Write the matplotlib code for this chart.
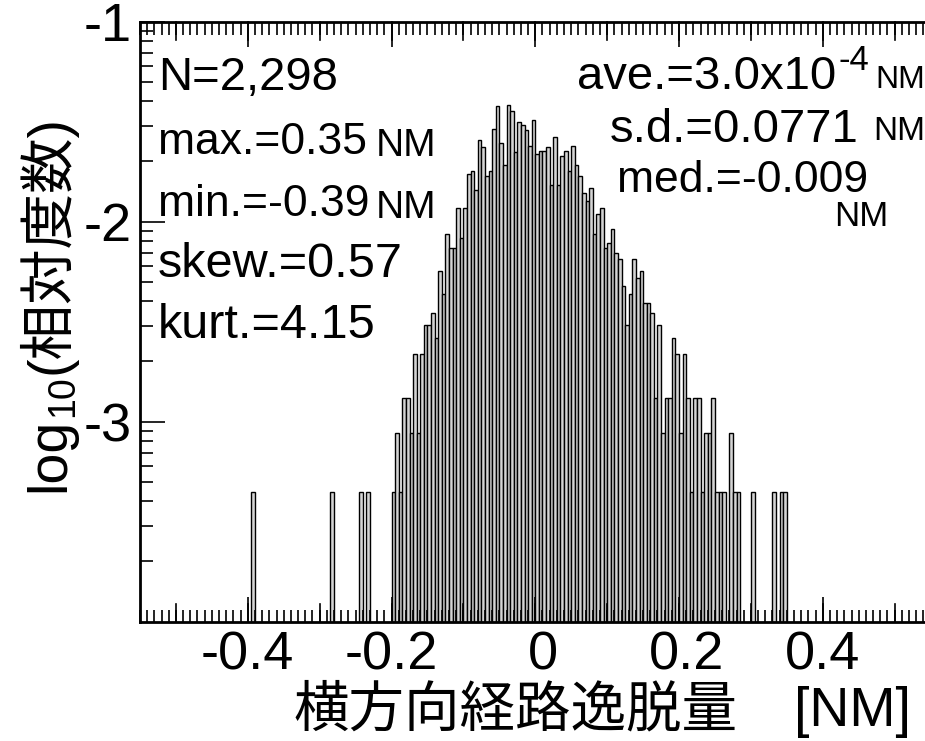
import numpy as np
import matplotlib
matplotlib.use("Agg")
import matplotlib.pyplot as plt
import matplotlib.transforms as mtransforms
from matplotlib.ticker import FixedLocator, FixedFormatter, LogLocator, NullFormatter, MultipleLocator

plt.rcParams['font.family'] = ['Liberation Sans', 'Noto Sans CJK JP', 'DejaVu Sans']
plt.rcParams['axes.unicode_minus'] = False

# ---- data ----
N_total = 2298
bin_width = 0.005
# isolated outlying bins (left edge, count)
outlier_left = [-0.395, -0.285, -0.245, -0.235]
outlier_counts = [1, 1, 1, 1]
# continuous block of bins starting at -0.200
block_start = -0.200
block_counts = [
    1, 2, 1, 3, 3, 2, 5, 2, 5, 7,        # -0.200 .. -0.155
    7, 8, 6, 13, 10, 20, 17, 17, 27, 19,  # -0.150 .. -0.105
    27, 40, 41, 33, 59, 54, 39, 41, 67, 87,  # -0.100 .. -0.055
    57, 44, 88, 82, 51, 72, 70, 66, 55, 74,  # -0.050 .. -0.005
    50, 52, 52, 54, 35, 61, 35, 49, 52, 41,  # 0.000 .. 0.045
    55, 44, 39, 32, 29, 34, 20, 25, 27, 17,  # 0.050 .. 0.095
    18, 21, 16, 15, 11, 7, 10, 15, 12, 13,   # 0.100 .. 0.145
    9, 9, 8, 3, 7, 2, 3, 3, 6, 5,            # 0.150 .. 0.195
    2, 5, 3, 1, 3, 3, 1, 2, 2, 3,            # 0.200 .. 0.245
    1, 1, 1, 0, 2, 1, 1, 0, 0, 0,            # 0.250 .. 0.295
    1, 0, 0, 0, 0, 0, 1, 0, 1, 1,            # 0.300 .. 0.345
]

xtick_vals = [-0.4, -0.2, 0.0, 0.2, 0.4]
xtick_text = ["-0.4", "-0.2", "0", "0.2", "0.4"]
ytick_vals = [1e-1, 1e-2, 1e-3]
ytick_text = ["-1", "-2", "-3"]

# ---- figure ----
W, H = 925, 741
fig = plt.figure(figsize=(W / 100, H / 100), dpi=100)
ax_l, ax_r, ax_t, ax_b = 140, 930.6, 21.7, 621.7
ax = fig.add_axes([ax_l / W, 1 - ax_b / H, (ax_r - ax_l) / W, (ax_b - ax_t) / H])

edges = np.concatenate([np.array(outlier_left),
                        block_start + bin_width * np.arange(len(block_counts))])
counts = np.concatenate([np.array(outlier_counts, float),
                         np.array(block_counts, float)])
rel = counts / N_total
mask = counts > 0
ax.bar(edges[mask], rel[mask], width=bin_width, align='edge', bottom=1e-5,
       color='#d4d4d4', edgecolor='black', linewidth=1.0)

ax.set_yscale('log')
ax.set_ylim(1e-4, 1e-1)
ax.set_xlim(-0.55, 0.55)

ax.xaxis.set_major_locator(FixedLocator(xtick_vals))
ax.xaxis.set_major_formatter(FixedFormatter(xtick_text))
ax.xaxis.set_minor_locator(MultipleLocator(0.01))
ax.yaxis.set_major_locator(FixedLocator(ytick_vals))
ax.yaxis.set_major_formatter(FixedFormatter(ytick_text))
ax.yaxis.set_minor_locator(LogLocator(base=10, subs=np.arange(2, 10)))
ax.yaxis.set_minor_formatter(NullFormatter())

# tall ticks every 0.1
for xv in np.arange(-0.5, 0.51, 0.1):
    for yy, d in ((0, 1), (1, -1)):
        ax.plot([xv, xv], [yy, yy + d * 0.03], transform=ax.get_xaxis_transform(),
                color='black', lw=1.2, clip_on=False)

ax.tick_params(which='both', direction='in', top=True, right=False, width=1.2)
ax.tick_params(which='major', length=18, labelsize=39, pad=6)
ax.tick_params(which='minor', length=9)
for s in ax.spines.values():
    s.set_linewidth(2)

# small horizontal nudges of x tick labels as placed in the original
label_shift_px = {"0": 8, "0.2": 8}
for lab in ax.get_xticklabels():
    dx = label_shift_px.get(lab.get_text(), 0)
    if dx:
        lab.set_transform(lab.get_transform() +
                          mtransforms.ScaledTranslation(dx / 100, 0, fig.dpi_scale_trans))

# ---- text ----
def px(x, y):
    return x / W, 1 - y / H

fig.text(*px(158, 78), "N=2,298", fontsize=34, va='center', ha='left')
fig.text(*px(158, 143), "max.=0.35", fontsize=32, va='center', ha='left')
fig.text(*px(376, 146), "NM", fontsize=28, va='center', ha='left')
fig.text(*px(158, 205), "min.=-0.39", fontsize=32, va='center', ha='left')
fig.text(*px(376, 208), "NM", fontsize=28, va='center', ha='left')
fig.text(*px(158, 265), "skew.=0.57", fontsize=35, va='center', ha='left')
fig.text(*px(158, 325), "kurt.=4.15", fontsize=35, va='center', ha='left')

fig.text(*px(836, 77), "ave.=3.0x10", fontsize=34, va='center', ha='right')
fig.text(*px(838, 60), "-4", fontsize=25, va='center', ha='left')
fig.text(*px(925, 80), "NM", fontsize=23, va='center', ha='right')
fig.text(*px(858, 130), "s.d.=0.0771", fontsize=34, va='center', ha='right')
fig.text(*px(925, 132), "NM", fontsize=24, va='center', ha='right')
fig.text(*px(868, 180), "med.=-0.009", fontsize=32, va='center', ha='right')
fig.text(*px(888, 217), "NM", fontsize=25, va='center', ha='right')

# y label assembled from pieces (log, subscript 10, (相対度数))
renderer = fig.canvas.get_renderer()
base_x = 64
y_cur = 492
t1 = fig.text(*px(base_x, y_cur), "log", fontsize=40, rotation=90,
              rotation_mode='anchor', ha='left', va='baseline')
h1 = t1.get_window_extent(renderer).height
y_cur -= h1 + 1
t2 = fig.text(*px(base_x + 9, y_cur), "10", fontsize=27, rotation=90,
              rotation_mode='anchor', ha='left', va='baseline')
h2 = t2.get_window_extent(renderer).height
y_cur -= h2 + 1
fig.text(*px(base_x, y_cur), "(相対度数)", fontsize=40, rotation=90,
         rotation_mode='anchor', ha='left', va='baseline')

fig.text(*px(515, 712), "横方向経路逸脱量", fontsize=40, va='center', ha='center')
fig.text(*px(852, 712), "[NM]", fontsize=40, va='center', ha='center')

fig.savefig("out.png", dpi=100)
